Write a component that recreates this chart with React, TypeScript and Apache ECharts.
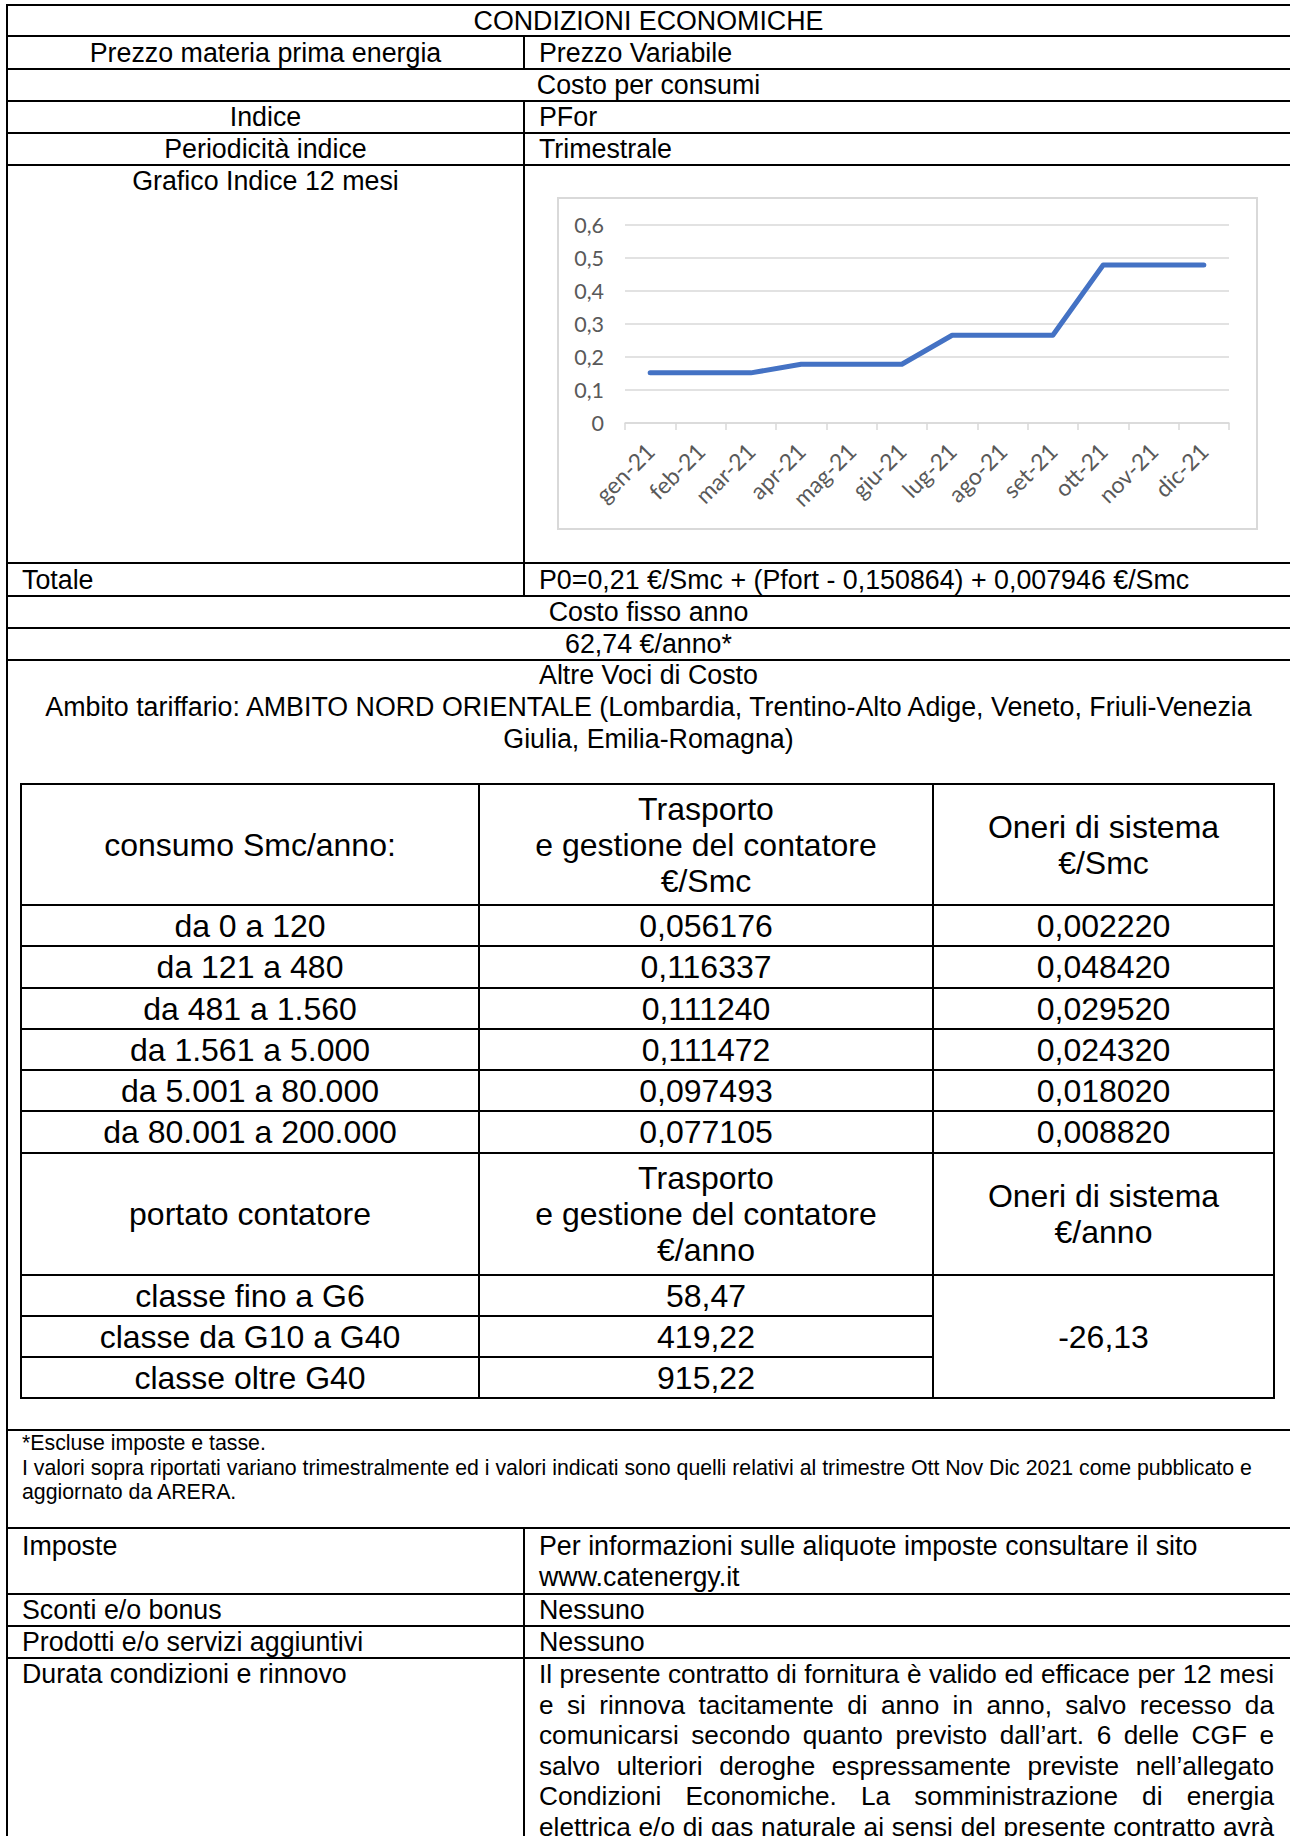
import React, { useEffect, useRef } from "react";
import * as echarts from "echarts";

// ---- chart data ----
const months = ["gen-21", "feb-21", "mar-21", "apr-21", "mag-21", "giu-21", "lug-21", "ago-21", "set-21", "ott-21", "nov-21", "dic-21"];
const pforValues = [0.152, 0.152, 0.152, 0.178, 0.178, 0.178, 0.266, 0.266, 0.266, 0.479, 0.479, 0.479];
const yMin = 0;
const yMax = 0.6;
const yStep = 0.1;

// ---- table data ----
const consumoRows = ["da 0 a 120", "da 121 a 480", "da 481 a 1.560", "da 1.561 a 5.000", "da 5.001 a 80.000", "da 80.001 a 200.000"];
const trasportoSmc = ["0,056176", "0,116337", "0,111240", "0,111472", "0,097493", "0,077105"];
const oneriSmc = ["0,002220", "0,048420", "0,029520", "0,024320", "0,018020", "0,008820"];
const classiContatore = ["classe fino a G6", "classe da G10 a G40", "classe oltre G40"];
const trasportoAnno = ["58,47", "419,22", "915,22"];
const oneriAnno = "-26,13";

const durataLines = [
  "Il presente contratto di fornitura è valido ed efficace per 12 mesi",
  "e si rinnova tacitamente di anno in anno, salvo recesso da",
  "comunicarsi secondo quanto previsto dall’art. 6 delle CGF e",
  "salvo ulteriori deroghe espressamente previste nell’allegato",
  "Condizioni Economiche. La somministrazione di energia",
  "elettrica e/o di gas naturale ai sensi del presente contratto avrà",
];

const H = (y: number, x1: number, x2: number, key: string) => (
  <div key={key} style={{ position: "absolute", left: x1, top: y - 1, width: x2 - x1, height: 2, background: "#000" }} />
);
const V = (x: number, y1: number, y2: number, key: string) => (
  <div key={key} style={{ position: "absolute", left: x - 1, top: y1, width: 2, height: y2 - y1, background: "#000" }} />
);

type TProps = {
  x: number; y: number; w: number; h: number; size: number; lh: number;
  align?: "left" | "center"; valign?: "top" | "center"; children: React.ReactNode;
};
const T = ({ x, y, w, h, size, lh, align = "center", valign = "center", children }: TProps) => (
  <div
    style={{
      position: "absolute", left: x, top: y, width: w, height: h,
      display: "flex", flexDirection: "column",
      justifyContent: valign === "center" ? "center" : "flex-start",
      alignItems: align === "center" ? "center" : "flex-start",
      textAlign: align, fontSize: size, lineHeight: lh + "px", whiteSpace: "pre", color: "#000",
    }}
  >
    {children}
  </div>
);

function Chart() {
  const ref = useRef<HTMLDivElement>(null);
  useEffect(() => {
    if (!ref.current) return;
    const chart = echarts.init(ref.current, null, { renderer: "svg" });
    chart.setOption({
      animation: false,
      grid: { left: 66, top: 26, width: 604, height: 198, containLabel: false },
      xAxis: {
        type: "category",
        data: months,
        boundaryGap: true,
        axisLine: { lineStyle: { color: "#d9d9d9", width: 1.5 } },
        axisTick: { show: true, length: 7, lineStyle: { color: "#d9d9d9", width: 1.5 } },
        axisLabel: { rotate: 45, interval: 0, color: "#595959", fontFamily: "Lato", fontSize: 23, margin: 24 },
      },
      yAxis: {
        type: "value",
        min: yMin,
        max: yMax,
        interval: yStep,
        axisLine: { show: false },
        axisTick: { show: false },
        splitLine: { lineStyle: { color: "#d9d9d9", width: 1.5 } },
        axisLabel: {
          color: "#595959", fontFamily: "Lato", fontSize: 21.5, margin: 21,
          formatter: (v: number) => String(Number(v.toFixed(1))).replace(".", ","),
        },
      },
      series: [
        {
          type: "line",
          data: pforValues,
          showSymbol: false,
          lineStyle: { color: "#4472C4", width: 5, cap: "round", join: "round" },
        },
      ],
    });
    return () => chart.dispose();
  }, []);
  return (
    <div
      ref={ref}
      style={{ position: "absolute", left: 557, top: 197, width: 701, height: 333, border: "2px solid #d9d9d9", boxSizing: "border-box" }}
    />
  );
}

export default function App() {
  const R = 1300; // right edge (offscreen)
  const outerH = [5, 36, 69, 101, 133, 165, 563, 596, 628, 660, 1430, 1528, 1594, 1626, 1658];
  const lines: React.ReactNode[] = [];
  outerH.forEach((y, i) => lines.push(H(y, 6, R, "oh" + i)));
  lines.push(V(7, 4, 1900, "ov"));
  lines.push(V(524, 36, 69, "d1"));
  lines.push(V(524, 101, 596, "d2"));
  lines.push(V(524, 1528, 1900, "d3"));

  // inner table
  const innerFull = [784, 905, 946, 988, 1029, 1070, 1111, 1153, 1275, 1398];
  innerFull.forEach((y, i) => lines.push(H(y, 20, 1275, "ih" + i)));
  [1316, 1357].forEach((y, i) => lines.push(H(y, 20, 933, "ip" + i)));
  [21, 479, 933, 1274].forEach((x, i) => lines.push(V(x, 783, 1399, "iv" + i)));

  const dataRowsY = [905, 946, 988, 1029, 1070, 1111, 1153];
  const contRowsY = [1275, 1316, 1357, 1398];

  const top = 26.8, tlh = 30;
  const ins = 32, ilh = 36;
  const lx = 22, rx = 539;

  return (
    <div
      style={{
        position: "fixed", left: 0, top: 0, width: 1290, height: 1836, overflow: "hidden",
        background: "#fff", fontFamily: '"Liberation Sans", Arial, sans-serif',
      }}
    >
      {lines}
      <T x={7} y={5} w={1283} h={31} size={top} lh={tlh}>CONDIZIONI ECONOMICHE</T>
      <T x={7} y={36} w={517} h={33} size={top} lh={tlh}>Prezzo materia prima energia</T>
      <T x={rx} y={36} w={700} h={33} size={top} lh={tlh} align="left">Prezzo Variabile</T>
      <T x={7} y={69} w={1283} h={32} size={top} lh={tlh}>Costo per consumi</T>
      <T x={7} y={101} w={517} h={32} size={top} lh={tlh}>Indice</T>
      <T x={rx} y={101} w={700} h={32} size={top} lh={tlh} align="left">PFor</T>
      <T x={7} y={133} w={517} h={32} size={top} lh={tlh}>Periodicità indice</T>
      <T x={rx} y={133} w={700} h={32} size={top} lh={tlh} align="left">Trimestrale</T>
      <T x={7} y={166} w={517} h={30} size={top} lh={tlh} valign="top">Grafico Indice 12 mesi</T>
      <Chart />
      <T x={lx} y={563} w={500} h={33} size={top} lh={tlh} align="left">Totale</T>
      <T x={rx} y={563} w={740} h={33} size={top} lh={tlh} align="left">P0=0,21 €/Smc + (Pfort - 0,150864) + 0,007946 €/Smc</T>
      <T x={7} y={596} w={1283} h={32} size={top} lh={tlh}>Costo fisso anno</T>
      <T x={7} y={628} w={1283} h={32} size={top} lh={tlh}>62,74 €/anno*</T>
      <T x={7} y={659} w={1283} h={96} size={top} lh={32} valign="top">
        {"Altre Voci di Costo\nAmbito tariffario: AMBITO NORD ORIENTALE (Lombardia, Trentino-Alto Adige, Veneto, Friuli-Venezia\nGiulia, Emilia-Romagna)"}
      </T>

      {/* inner tariff table */}
      <T x={21} y={784} w={458} h={121} size={ins} lh={ilh}>consumo Smc/anno:</T>
      <T x={479} y={784} w={454} h={121} size={ins} lh={ilh}>{"Trasporto\ne gestione del contatore\n€/Smc"}</T>
      <T x={933} y={784} w={341} h={121} size={ins} lh={ilh}>{"Oneri di sistema\n€/Smc"}</T>
      {consumoRows.map((c, i) => (
        <React.Fragment key={"cr" + i}>
          <T x={21} y={dataRowsY[i]} w={458} h={dataRowsY[i + 1] - dataRowsY[i]} size={ins} lh={ilh}>{c}</T>
          <T x={479} y={dataRowsY[i]} w={454} h={dataRowsY[i + 1] - dataRowsY[i]} size={ins} lh={ilh}>{trasportoSmc[i]}</T>
          <T x={933} y={dataRowsY[i]} w={341} h={dataRowsY[i + 1] - dataRowsY[i]} size={ins} lh={ilh}>{oneriSmc[i]}</T>
        </React.Fragment>
      ))}
      <T x={21} y={1153} w={458} h={122} size={ins} lh={ilh}>portato contatore</T>
      <T x={479} y={1153} w={454} h={122} size={ins} lh={ilh}>{"Trasporto\ne gestione del contatore\n€/anno"}</T>
      <T x={933} y={1153} w={341} h={122} size={ins} lh={ilh}>{"Oneri di sistema\n€/anno"}</T>
      {classiContatore.map((c, i) => (
        <React.Fragment key={"cc" + i}>
          <T x={21} y={contRowsY[i]} w={458} h={contRowsY[i + 1] - contRowsY[i]} size={ins} lh={ilh}>{c}</T>
          <T x={479} y={contRowsY[i]} w={454} h={contRowsY[i + 1] - contRowsY[i]} size={ins} lh={ilh}>{trasportoAnno[i]}</T>
        </React.Fragment>
      ))}
      <T x={933} y={1275} w={341} h={123} size={ins} lh={ilh}>{oneriAnno}</T>

      {/* footnote */}
      <T x={lx} y={1431} w={1260} h={74} size={21.3} lh={24.5} align="left" valign="top">
        {"*Escluse imposte e tasse.\nI valori sopra riportati variano trimestralmente ed i valori indicati sono quelli relativi al trimestre Ott Nov Dic 2021 come pubblicato e\naggiornato da ARERA."}
      </T>

      {/* bottom section */}
      <T x={lx} y={1531} w={500} h={31} size={top} lh={30.5} align="left" valign="top">Imposte</T>
      <T x={rx} y={1531} w={740} h={62} size={top} lh={30.5} align="left" valign="top">
        {"Per informazioni sulle aliquote imposte consultare il sito\nwww.catenergy.it"}
      </T>
      <T x={lx} y={1594} w={500} h={32} size={top} lh={30.5} align="left">Sconti e/o bonus</T>
      <T x={rx} y={1594} w={740} h={32} size={top} lh={30.5} align="left">Nessuno</T>
      <T x={lx} y={1626} w={500} h={32} size={top} lh={30.5} align="left">Prodotti e/o servizi aggiuntivi</T>
      <T x={rx} y={1626} w={740} h={32} size={top} lh={30.5} align="left">Nessuno</T>
      <T x={lx} y={1659} w={500} h={31} size={top} lh={30.5} align="left" valign="top">Durata condizioni e rinnovo</T>
      <div style={{ position: "absolute", left: rx, top: 1659, width: 735, fontSize: 26.2, lineHeight: "30.5px" }}>
        {durataLines.map((l, i) => (
          <div key={"dl" + i} style={{ textAlign: "justify", textAlignLast: "justify", whiteSpace: "nowrap", letterSpacing: i === 0 ? -0.15 : 0 }}>{l}</div>
        ))}
      </div>
    </div>
  );
}
